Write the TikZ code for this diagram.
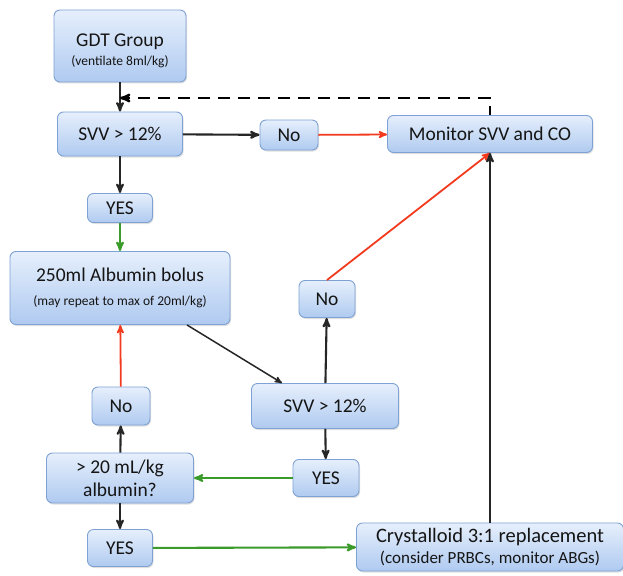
\documentclass[tikz,border=0pt]{standalone}
\usepackage{fontspec}
\setmainfont{Carlito}
\usetikzlibrary{arrows,shadows}

\definecolor{boxtop}{HTML}{E6EFFC}
\definecolor{boxbot}{HTML}{AFCAF0}
\definecolor{boxline}{HTML}{7EA2D3}
\definecolor{boxtext}{HTML}{151515}
\definecolor{nored}{HTML}{F23A1E}
\definecolor{yesgreen}{HTML}{3A9A2A}

\newcommand{\bigtxt}{\fontsize{19.5}{22}\selectfont}
\newcommand{\smalltxt}{\fontsize{13.5}{15}\selectfont}

\begin{document}
\begin{tikzpicture}[x=1pt,y=-1pt,>=stealth',
    box/.style={rectangle,rounded corners=6pt,draw=boxline,line width=0.9pt,
        top color=boxtop,bottom color=boxbot,text=boxtext,inner sep=0pt,
        align=center,font=\bigtxt,
        drop shadow={opacity=0.25,shadow xshift=1pt,shadow yshift=-1.5pt}},
    go/.style={->,line width=2.1pt,black!85},
    gored/.style={->,line width=1.8pt,nored},
    gogreen/.style={->,line width=2.1pt,yesgreen}]
    \useasboundingbox (0,0) rectangle (623,575);

    % boxes
    \node[box,minimum width=132pt,minimum height=72pt] (gdt) at (120,46)
        {\raisebox{-6pt}[\height][\depth]{\begin{tabular}{@{}c@{}}GDT Group\\[-3pt]{\smalltxt (ventilate 8ml/kg)}\end{tabular}}};
    \node[box,minimum width=125pt,minimum height=44pt] (svva) at (120,134) {SVV > 12\%};
    \node[box,minimum width=58pt,minimum height=30pt] (noa) at (289,135) {No};
    \node[box,minimum width=205pt,minimum height=37pt] (monitor) at (490,134) {Monitor SVV and CO};
    \node[box,minimum width=65pt,minimum height=29pt] (yesa) at (120,208) {YES};
    \node[box,minimum width=220pt,minimum height=73pt] (albumin) at (120,288)
        {250ml Albumin bolus\\[2pt]{\smalltxt (may repeat to max of 20ml/kg)}};
    \node[box,minimum width=56pt,minimum height=37pt] (nob) at (327,299) {No};
    \node[box,minimum width=147pt,minimum height=45pt] (svvb) at (325,406) {SVV > 12\%};
    \node[box,minimum width=58pt,minimum height=38pt] (noc) at (121,406) {No};
    \node[box,minimum width=147pt,minimum height=50pt,font=\fontsize{19.5}{23}\selectfont] (limit) at (120,478)
        {> 20 mL/kg\\albumin?};
    \node[box,minimum width=66pt,minimum height=37pt] (yesb) at (326,478) {YES};
    \node[box,minimum width=65pt,minimum height=37pt] (yesc) at (120,548) {YES};
    \node[box,minimum width=267pt,minimum height=48pt,font=\fontsize{20.5}{21}\selectfont] (cryst) at (490,547)
        {Crystalloid 3:1 replacement\\{\fontsize{17}{19}\selectfont (consider PRBCs, monitor ABGs)}};

    % top loop
    \coordinate (back) at (120,98);
    \draw[go] (gdt) -- (svva);
    \draw[->,dash pattern=on 12pt off 8pt,dash phase=3pt,line width=2.4pt] (monitor.north) |- (back);
    \draw[go] (svva) -- (noa);
    \draw[gored] (noa) -- (monitor);
    \draw[go] (svva) -- (yesa);
    \draw[gogreen] (yesa) -- (albumin);

    % albumin check
    \draw[->,line width=1.5pt,black!85] ([xshift=67pt]albumin.south) -- ([xshift=-43pt]svvb.north);
    \draw[go] (svvb) -- (nob);
    \draw[gored] (nob.north) -- (monitor.south);
    \draw[go] (svvb) -- (yesb);
    \draw[gogreen] (yesb) -- (limit);
    \draw[go] (limit) -- (noc);
    \draw[gored] (noc) -- (albumin);
    \draw[go] (limit) -- (yesc);
    \draw[gogreen] (yesc) -- (cryst);
    \draw[go] (cryst.north) -- (cryst.north |- monitor.south);
\end{tikzpicture}
\end{document}
